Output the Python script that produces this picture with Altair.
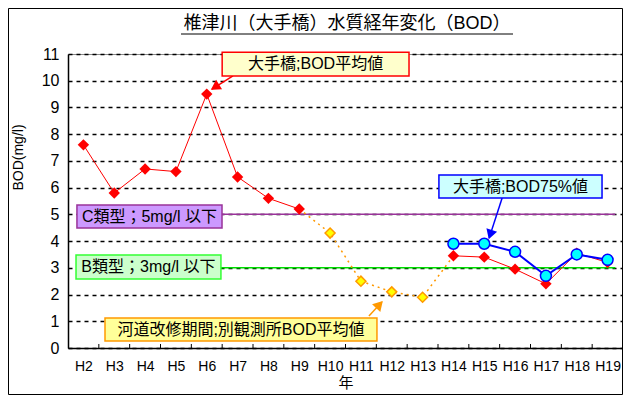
import math
import json
import altair as alt
import pandas as pd

# ---------------- data ----------------
years = ["H2", "H3", "H4", "H5", "H6", "H7", "H8", "H9", "H10",
         "H11", "H12", "H13", "H14", "H15", "H16", "H17", "H18", "H19"]
# 大手橋 BOD平均値
bod_mean = [7.6, 5.8, 6.7, 6.6, 9.5, 6.4, 5.6, 5.2, None,
            None, None, None, 3.45, 3.4, 2.95, 2.4, 3.55, 3.2]
# 河道改修期間 別観測所BOD平均値
bod_other = [None, None, None, None, None, None, None, None, 4.3,
             2.5, 2.1, 1.9, None, None, None, None, None, None]
# 大手橋 BOD75%値
bod_75 = [None, None, None, None, None, None, None, None, None,
          None, None, None, 3.9, 3.9, 3.6, 2.7, 3.5, 3.3]
y_ticks = [0, 1, 2, 3, 4, 5, 6, 7, 8, 9, 10, 11]

# environmental standards
std_values = [5, 3]
std_colors = ["#993399", "#00DD00"]

# annotation boxes (data units)
ann_text = ["大手橋;BOD平均値", "大手橋;BOD75%値", "C類型；5mg/l 以下",
            "B類型；3mg/l 以下", "河道改修期間;別観測所BOD平均値"]
ann_x1 = [4.5, 11.53, -0.21, -0.24, 0.70]
ann_x2 = [10.56, 16.82, 4.495, 4.46, 9.52]
ann_y1 = [10.18, 5.61, 4.49, 2.58, 0.26]
ann_y2 = [11.07, 6.47, 5.35, 3.48, 1.12]
ann_fill = ["#FFFFCC", "#CCFFFF", "#CC99FF", "#CCFFCC", "#FFFF99"]
ann_stroke = ["#FF0000", "#0000FF", "#993399", "#33FF33", "#FF9900"]

# arrows (start -> tip, data units)
arr_x1 = [4.85, 13.58, 9.26]
arr_y1 = [10.18, 5.61, 1.20]
arr_x2 = [4.17, 13.16, 9.68]
arr_y2 = [9.69, 4.12, 1.72]
arr_color = ["#FF0000", "#0000FF", "#FF9900"]

FONT = "Liberation Sans, Noto Sans CJK JP"
W, H = 555, 294
PXX, PXY = W / 18.0, H / 11.0

idx = list(range(len(years)))
label_expr = json.dumps(years) + "[datum.value]"

xs = alt.Scale(domain=[-0.5, 17.5], nice=False, zero=False)
ys = alt.Scale(domain=[0, 11], nice=False, zero=True)

AX = alt.Axis(values=idx, labelExpr=label_expr, ticks=False, grid=False,
              labelOverlap=False, labelFlush=False,
              domainColor="#000", domainWidth=1.5, labelFontSize=14,
              labelPadding=11, labelColor="#000", labelFont=FONT,
              title="年", titleFont=FONT, titleFontSize=15,
              titleFontWeight="normal", titlePadding=2, titleColor="#000")
AY = alt.Axis(values=y_ticks, ticks=False, grid=True,
              labelOverlap=False, labelFlush=False,
              gridColor="#000", gridDash=[4, 4], gridWidth=1.5,
              domainColor="#000", domainWidth=1.5, labelFontSize=16,
              labelPadding=9, labelColor="#000", labelFont=FONT,
              title="BOD(mg/l)", titleFont=FONT, titleFontSize=14,
              titleFontWeight="normal", titleColor="#000",
              titleX=-50, titleY=103, titleAngle=270,
              titleBaseline="middle", titleAlign="center")


def X(f):
    return alt.X(f, scale=xs, axis=AX, title="年")


def Y(f):
    return alt.Y(f, scale=ys, axis=AY, title="BOD(mg/l)")


# ---------------- tables ----------------
red_rows = []
for i, v in zip(idx, bod_mean):
    if v is not None:
        red_rows.append({"i": i, "v": v, "seg": 0 if i < 8 else 1})
red_df = pd.DataFrame(red_rows)

orange_pts = pd.DataFrame([{"i": i, "v": v} for i, v in zip(idx, bod_other) if v is not None])
orange_line = pd.concat([
    pd.DataFrame([{"i": 7, "v": bod_mean[7]}]),
    orange_pts,
    pd.DataFrame([{"i": 12, "v": bod_mean[12]}]),
], ignore_index=True)

blue_df = pd.DataFrame([{"i": i, "v": v} for i, v in zip(idx, bod_75) if v is not None])

std_df = pd.DataFrame({"v": std_values, "c": std_colors, "x1": [0] * 2, "x2": [17.25] * 2})

ann_df = pd.DataFrame({"t": ann_text, "x1": ann_x1, "x2": ann_x2, "y1": ann_y1, "y2": ann_y2,
                       "fill": ann_fill, "stroke": ann_stroke})
ann_df["xc"] = (ann_df["x1"] + ann_df["x2"]) / 2
ann_df["yc"] = (ann_df["y1"] + ann_df["y2"]) / 2

arr_df = pd.DataFrame({"x1": arr_x1, "y1": arr_y1, "x2": arr_x2, "y2": arr_y2, "c": arr_color})
heads = []
r = 4.0
for _, row in arr_df.iterrows():
    dx = (row.x2 - row.x1) * PXX
    dy = -(row.y2 - row.y1) * PXY
    n = math.hypot(dx, dy)
    ux, uy = dx / n, dy / n
    ang = math.degrees(math.atan2(ux, -uy)) % 360
    heads.append({"i": row.x2 - r * ux / PXX, "v": row.y2 + r * uy / PXY, "a": ang, "c": row.c})
head_df = pd.DataFrame(heads)

tick_df = pd.DataFrame({"i": [k - 0.5 for k in range(1, 18)], "y0": 0, "y1": 0.15})

# ---------------- layers ----------------
frame = alt.Chart(alt.Data(values=[{}])).mark_rect(fill=None, stroke="#000", strokeWidth=1).encode(
    x=alt.value(-59.5), x2=alt.value(554.5), y=alt.value(-45.5), y2=alt.value(340.5))

title = alt.Chart(alt.Data(values=[{"t": "椎津川（大手橋）水質経年変化（BOD）"}])).mark_text(
    font=FONT, fontSize=18, color="#000").encode(text="t:N", x=alt.value(279), y=alt.value(-30))
underline = alt.Chart(alt.Data(values=[{}])).mark_rule(color="#000", strokeWidth=1).encode(
    x=alt.value(113), x2=alt.value(445), y=alt.value(-20))

right_border = alt.Chart(alt.Data(values=[{}])).mark_rule(color="#000", strokeWidth=1.5).encode(
    x=alt.value(W), y=alt.value(0), y2=alt.value(H))

ticks = alt.Chart(tick_df).mark_rule(color="#000", strokeWidth=1).encode(
    x=X("i:Q"), y=Y("y0:Q"), y2="y1:Q")

std_lines = alt.Chart(std_df).mark_rule(strokeWidth=1.5).encode(
    x=X("x1:Q"), x2="x2:Q", y=Y("v:Q"), color=alt.Color("c:N", scale=None))

red_line = alt.Chart(red_df).mark_line(color="#FF0000", strokeWidth=1).encode(
    x=X("i:Q"), y=Y("v:Q"), detail="seg:N")
red_pts = alt.Chart(red_df).mark_point(shape="diamond", filled=True, color="#FF0000",
                                       size=130, opacity=1).encode(x=X("i:Q"), y=Y("v:Q"))

orange_ln = alt.Chart(orange_line).mark_line(color="#FF9900", strokeWidth=1.5, strokeDash=[2, 4]).encode(
    x=X("i:Q"), y=Y("v:Q"))
orange_pt = alt.Chart(orange_pts).mark_point(shape="diamond", filled=True, fill="#FFFF00",
                                             stroke="#FF9900", strokeWidth=1.5, size=100,
                                             opacity=1).encode(x=X("i:Q"), y=Y("v:Q"))

blue_ln = alt.Chart(blue_df).mark_line(color="#0000FF", strokeWidth=2).encode(x=X("i:Q"), y=Y("v:Q"))
blue_pt = alt.Chart(blue_df).mark_point(shape="circle", filled=True, fill="#00FFFF",
                                        stroke="#0000FF", strokeWidth=1.5, size=120,
                                        opacity=1).encode(x=X("i:Q"), y=Y("v:Q"))

arrows = alt.Chart(arr_df).mark_rule(strokeWidth=1.5).encode(
    x=X("x1:Q"), x2="x2:Q", y=Y("y1:Q"), y2="y2:Q", color=alt.Color("c:N", scale=None))
arrow_heads = alt.Chart(head_df).mark_point(shape="triangle-up", filled=True, size=60, opacity=1).encode(
    x=X("i:Q"), y=Y("v:Q"), angle=alt.Angle("a:Q", scale=None),
    fill=alt.Fill("c:N", scale=None), stroke=alt.Stroke("c:N", scale=None))

boxes = alt.Chart(ann_df).mark_rect(strokeWidth=1.5).encode(
    x=X("x1:Q"), x2="x2:Q", y=Y("y1:Q"), y2="y2:Q",
    fill=alt.Fill("fill:N", scale=None), stroke=alt.Stroke("stroke:N", scale=None))
box_text = alt.Chart(ann_df).mark_text(font=FONT, fontSize=16, color="#000").encode(
    x=X("xc:Q"), y=Y("yc:Q"), text="t:N")

chart = alt.layer(
    frame, title, underline, right_border, ticks, std_lines,
    red_line, orange_ln, red_pts, orange_pt, blue_ln, blue_pt,
    arrows, arrow_heads, boxes, box_text,
).properties(
    width=W, height=H,
    autosize=alt.AutoSizeParams(type="none"),
    padding={"left": 60, "top": 46, "right": 0, "bottom": 47},
    background="#FFFFFF",
).configure_view(stroke="#888888", strokeWidth=1)

chart.save("out.html", embed_options={"renderer": "svg", "actions": False})
